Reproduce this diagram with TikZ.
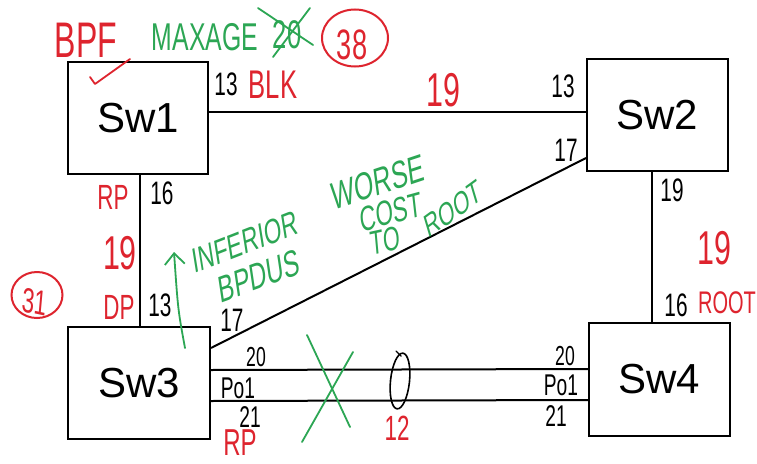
\documentclass[tikz,border=0pt]{standalone}
\usepackage{fontspec}
\setmainfont{Liberation Sans}
\usetikzlibrary{arrows.meta,shapes.geometric}
\definecolor{hred}{RGB}{222,36,46}
\definecolor{hgreen}{RGB}{44,166,84}
\begin{document}
\begin{tikzpicture}[x=1pt,y=-1pt,
  sw/.style={draw,line width=2pt,inner sep=0pt,font=\fontsize{42}{42}\selectfont},
  link/.style={line width=2pt},
  hand/.style={inner sep=0pt,xscale=0.8,yscale=1.25,font=\fontsize{#1}{#1}\selectfont},
  blab/.style={hand=#1,text=black},
  rlab/.style={hand=#1,text=hred},
  glab/.style={hand=#1,text=hgreen},
  gstroke/.style={hgreen,line width=1.8pt,line cap=round,line join=round},
  rstroke/.style={hred,line width=1.8pt,line cap=round,line join=round}]
\useasboundingbox (0,0) rectangle (757,463);
\fill[white] (0,0) rectangle (757,463);

% switches
\node[sw,minimum width=140pt,minimum height=112pt] (sw1) at (138,118) {Sw1};
\node[sw,minimum width=141pt,minimum height=112pt] (sw2) at (657.5,115) {Sw2};
\node[sw,minimum width=142pt,minimum height=112pt] (sw3) at (139,383) {Sw3};
\node[sw,minimum width=141pt,minimum height=113pt] (sw4) at (659.5,379.5) {Sw4};

% links
\draw[link] ([yshift=6pt]sw1.east) -- ([yshift=3pt]sw2.west);
\draw[link] ([xshift=2pt]sw1.south) -- ([xshift=1pt]sw3.north);
\draw[link] ([xshift=-5.5pt]sw2.south) -- ([xshift=-7.5pt]sw4.north);
\draw[link] ([yshift=35pt]sw3.east) -- ([yshift=-43pt]sw2.west);
\draw[link] ([yshift=13pt]sw3.east) -- ([yshift=10.5pt]sw4.west);
\draw[link] ([yshift=-18pt]sw3.east) -- ([yshift=-20.5pt]sw4.west);

% port-channel bundle ellipse
\node[draw,ellipse,line width=1.6pt,minimum width=19pt,minimum height=56pt,inner sep=0pt,rotate=-6] (lag) at (400,381) {};
\draw[line width=1.4pt,line cap=round] (396,351) -- (401,356);

% top annotations
\node[rlab=40] (bpf) at (86,40) {BPF};
\draw[rstroke] (90,77) -- (95,84) -- (130,59);
\node[glab=31] (maxage) at (205,37) {MAXAGE};
\node[glab=32] (old) at (287,35) {20};
\draw[gstroke] (258,8) -- (313,45);
\draw[gstroke] (310,8) -- (273,57);
\node[draw=hred,line width=2pt,ellipse,minimum width=66pt,minimum height=57pt] (c38) at (355,38) {};
\node[rlab=34] (t38) at (352,45) {38};

% Sw1 / Sw2 ports
\node[blab=26] (p13a) at (226,84) {13};
\node[rlab=32] (blk) at (273,85) {BLK};
\node[rlab=38] (c19a) at (443,90) {19};
\node[blab=26] (p13b) at (563,86) {13};
\node[blab=26] (p17b) at (566,150) {17};
\node[blab=26] (p19b) at (672,190) {19};

% Sw2 - Sw4
\node[rlab=38] (c19b) at (714,248) {19};
\node[blab=26] (p16d) at (676,305) {16};
\node[rlab=25] (rootr) at (727,303) {ROOT};

% Sw1 - Sw3
\node[rlab=28] (rp1) at (113,197) {RP};
\node[blab=26] (p16a) at (162,193) {16};
\node[rlab=38] (c19c) at (120,253) {19};
\node[rlab=28] (dp) at (119,307) {DP};
\node[blab=26] (p13c) at (160,305) {13};
\node[draw=hred,line width=2pt,ellipse,minimum width=51pt,minimum height=46pt] (c31) at (37,295) {};
\node[rlab=28,rotate=-8] (t31) at (35,302) {31};

% Sw3 ports
\node[blab=26] (p17c) at (232,320) {17};
\node[blab=22] (p20c) at (256,357) {20};
\node[blab=24] (po1c) at (238,388) {Po1};
\node[blab=24] (p21c) at (250,417) {21};
\node[rlab=30] (rp2) at (240,443) {RP};

% Sw4 ports
\node[blab=22] (p20d) at (565,356) {20};
\node[blab=24] (po1d) at (561,385) {Po1};
\node[blab=24] (p21d) at (556,416) {21};

\node[rlab=28] (c12) at (397,428) {12};

% green notes
\node[glab=28,rotate=14] (inf) at (245,242) {INFERIOR};
\node[glab=30,rotate=13] (bpdus) at (259,276) {BPDUS};
\draw[gstroke,-{Straight Barb[length=11pt,width=20pt,line width=1.8pt]}] (185,348) .. controls (178,310) .. (174,252);
\node[glab=31,rotate=12] (worse) at (378,182) {WORSE};
\node[glab=28,rotate=10] (cost) at (391,212) {COST};
\node[glab=27,rotate=8] (to) at (385,241) {TO};
\node[glab=26,rotate=25] (rootg) at (453,209) {ROOT};
\draw[gstroke] (307,335) -- (350,427);
\draw[gstroke] (353,352) -- (302,442);
\end{tikzpicture}
\end{document}
